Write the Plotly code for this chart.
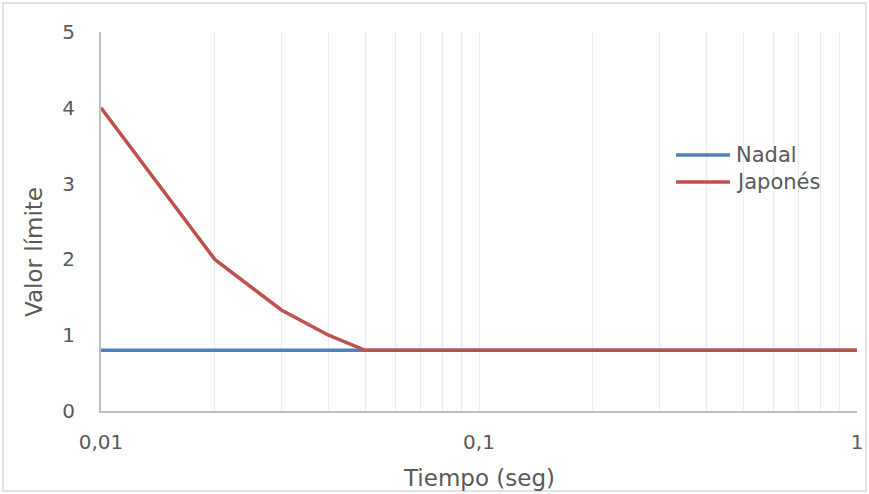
import plotly.graph_objects as go

tiempo = [0.01, 0.02, 0.03, 0.04, 0.05, 0.06, 0.07, 0.08, 0.09, 0.1,
          0.2, 0.3, 0.4, 0.5, 0.6, 0.7, 0.8, 0.9, 1.0]
nadal = [0.8] * 19
japones = [4.0, 2.0, 1.333, 1.0, 0.8, 0.8, 0.8, 0.8, 0.8, 0.8,
           0.8, 0.8, 0.8, 0.8, 0.8, 0.8, 0.8, 0.8, 0.8]

series_names = ["Nadal", "Japonés"]
series_colors = ["#4F81BD", "#C0504D"]

x_major = [0.01, 0.1, 1]
x_major_text = ["0,01", "0,1", "1"]
y_ticks = [0, 1, 2, 3, 4, 5]

font_family = "'DejaVu Sans', sans-serif"
text_color = "#595959"

L, R, T, B = 101, 857, 32, 411
W, H = 869, 494
pw, ph = R - L, B - T

fig = go.Figure()
for name, vals, col in zip(series_names, [nadal, japones], series_colors):
    fig.add_trace(go.Scatter(x=tiempo, y=vals, mode="lines", name=name,
                             line=dict(color=col, width=3.5)))

grid_vals = tiempo
grid_text = [x_major_text[x_major.index(v)] if v in x_major else "" for v in grid_vals]

annotations = [
    dict(text="Tiempo (seg)", xref="paper", yref="paper",
         x=0.5, y=(B - 478) / ph, xanchor="center", yanchor="middle",
         showarrow=False, font=dict(size=23, color=text_color)),
    dict(text="Valor límite", xref="paper", yref="paper",
         x=(34 - L) / pw, y=(B - 252) / ph, xanchor="center", yanchor="middle",
         textangle=-90, showarrow=False, font=dict(size=23, color=text_color)),
]

shapes = [dict(type="rect", xref="paper", yref="paper",
               x0=(3 - L) / pw, x1=(866 - L) / pw,
               y0=(B - 491) / ph, y1=(B - 3) / ph,
               line=dict(color="#D9D9D9", width=1.5), fillcolor="rgba(0,0,0,0)", layer="below")]

# custom legend
legend_rows = [155, 182]
for name, col, yp in zip(series_names, series_colors, legend_rows):
    ypaper = (B - yp) / ph
    shapes.append(dict(type="line", xref="paper", yref="paper",
                       x0=(676 - L) / pw, x1=(730 - L) / pw, y0=ypaper, y1=ypaper,
                       line=dict(color=col, width=3.5)))
    annotations.append(dict(text=name, xref="paper", yref="paper",
                            x=(734 - L) / pw, y=ypaper, xanchor="left", yanchor="middle",
                            showarrow=False, font=dict(size=21, color=text_color)))

fig.update_layout(
    width=W, height=H, autosize=False,
    margin=dict(l=L, r=W - R, t=T, b=H - B, pad=0),
    paper_bgcolor="white", plot_bgcolor="white",
    font=dict(family=font_family, color=text_color, size=20),
    showlegend=False,
    xaxis=dict(type="log", range=[-2, 0], automargin=False,
               tickvals=grid_vals, ticktext=grid_text,
               showgrid=True, gridcolor="#EBEBEB", gridwidth=1,
               showline=True, linecolor="#BFBFBF", linewidth=2,
               ticks="", zeroline=False, ticklabelstandoff=12,
               tickfont=dict(size=20, color=text_color)),
    yaxis=dict(range=[0, 5], tickvals=y_ticks, automargin=False,
               showgrid=False, showline=True, linecolor="#BFBFBF", linewidth=2,
               ticks="", zeroline=False, ticklabelstandoff=20,
               tickfont=dict(size=20, color=text_color)),
    annotations=annotations,
    shapes=shapes,
)

fig.write_html("out.html", config={"displayModeBar": False},
               post_script="document.body.style.margin='0';document.body.style.overflow='hidden';")
